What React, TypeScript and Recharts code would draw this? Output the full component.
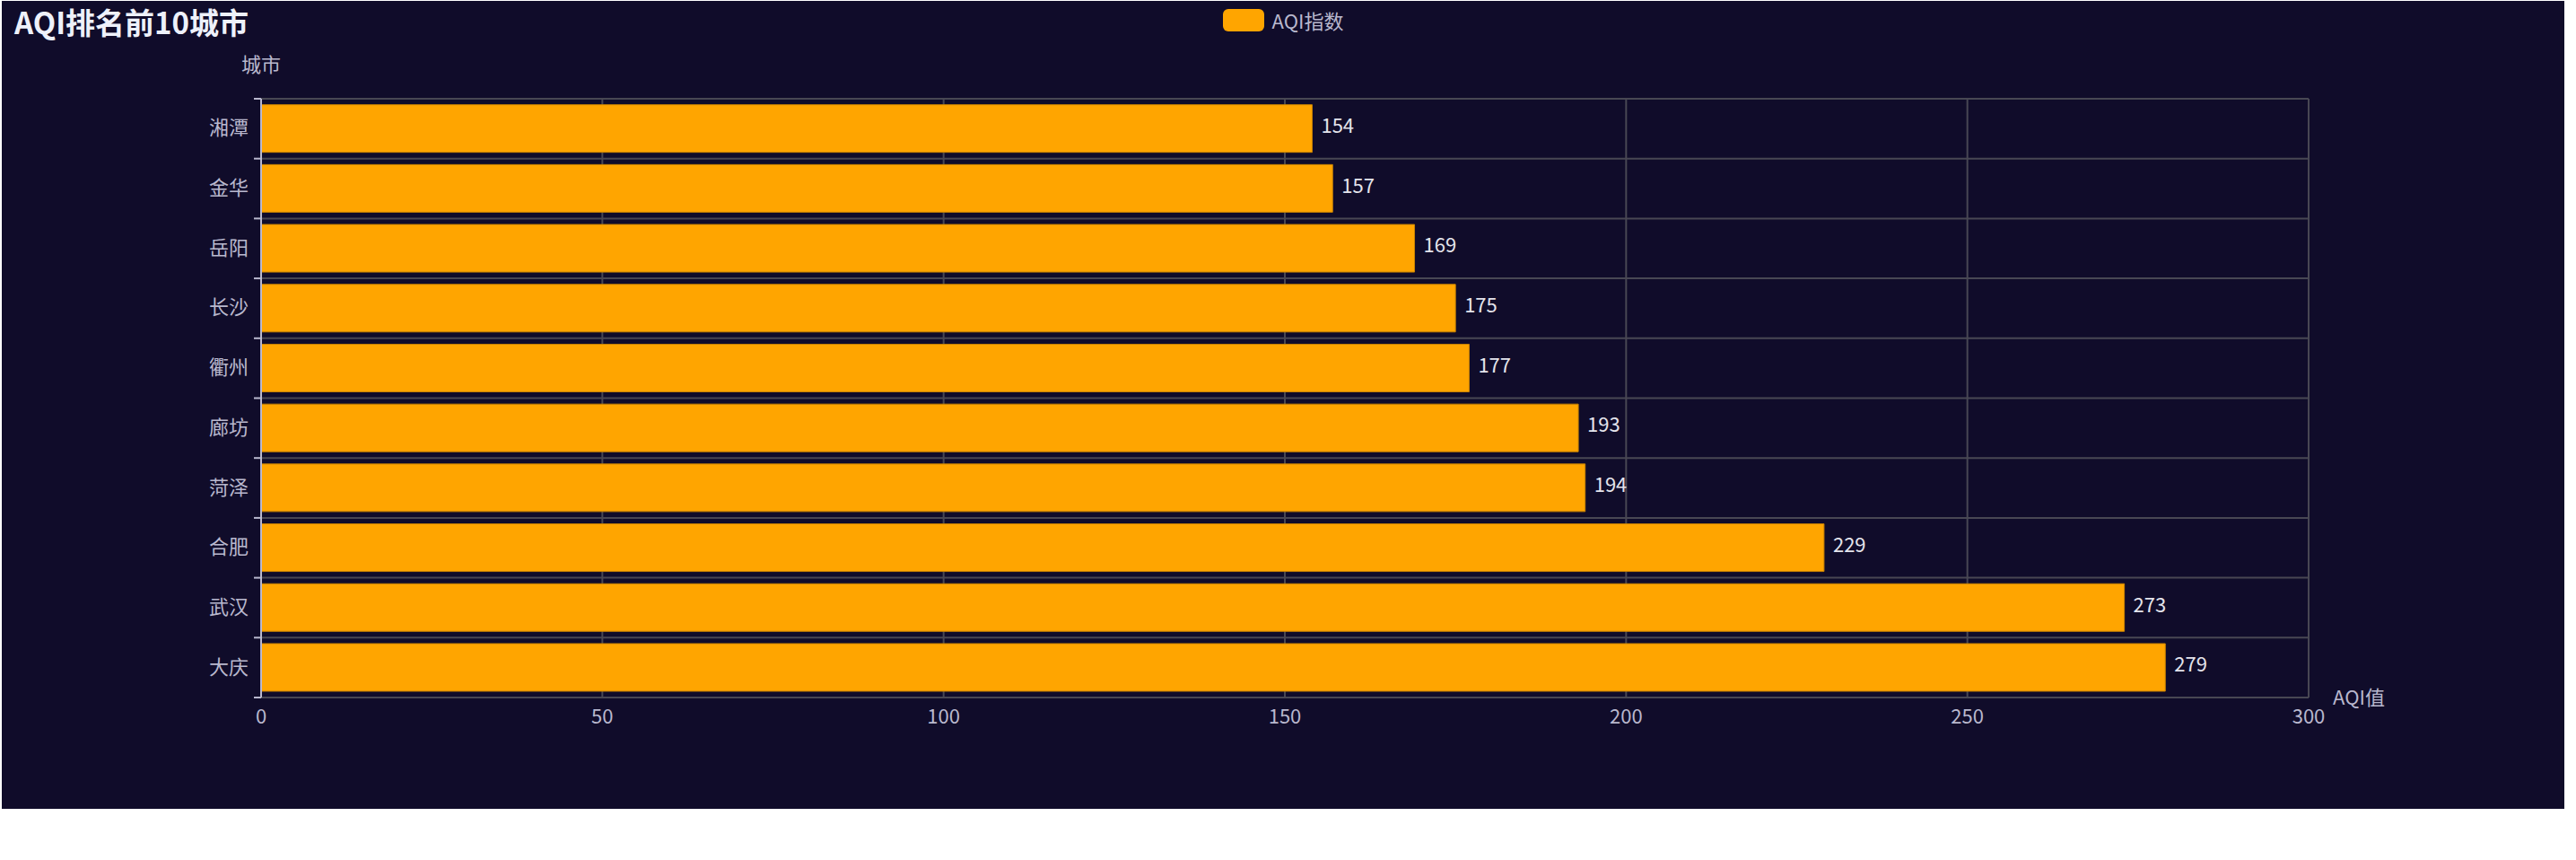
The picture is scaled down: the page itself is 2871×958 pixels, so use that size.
import React from 'react';
import {
  BarChart,
  Bar,
  XAxis,
  YAxis,
  CartesianGrid,
  Legend,
  LabelList,
} from 'recharts';

// top to bottom as drawn
const cities = ['湘潭', '金华', '岳阳', '长沙', '衢州', '廊坊', '菏泽', '合肥', '武汉', '大庆'];
const aqiValues = [154, 157, 169, 175, 177, 193, 194, 229, 273, 279];
const xTicks = [0, 50, 100, 150, 200, 250, 300];

const data = cities.map((city, i) => ({ city, aqi: aqiValues[i] }));

const W = 2856;
const H = 900;
const BG = '#100C2A';
const TEXT = '#B9B8CE';
const GRID = '#484753';
const BAR = '#FFA500';
const FONT = '"Noto Sans CJK SC", "Noto Sans", sans-serif';

const TICK_SIZE = 8;
const TICK_MARGIN = 6;

// category label at band centre, tick marks on band boundaries (echarts style)
const CityTick = (props: any) => {
  const { x, y, payload, index } = props;
  const half = payload && payload.offset ? payload.offset : 33.35;
  const axisX = x + TICK_SIZE + TICK_MARGIN;
  return (
    <g>
      <line x1={axisX - TICK_SIZE} x2={axisX} y1={y - half} y2={y - half} stroke={TEXT} strokeWidth={2} />
      {index === cities.length - 1 && (
        <line x1={axisX - TICK_SIZE} x2={axisX} y1={y + half} y2={y + half} stroke={TEXT} strokeWidth={2} />
      )}
      <text x={x} y={y - 3} textAnchor="end" dominantBaseline="central" fill={TEXT} fontSize={22} fontFamily={FONT}>
        {payload.value}
      </text>
    </g>
  );
};

const renderLegend = () => (
  <div style={{ display: 'flex', justifyContent: 'center', alignItems: 'center', fontFamily: FONT, height: 33 }}>
    <span style={{ display: 'inline-block', width: 46, height: 25, borderRadius: 6, background: BAR, marginRight: 9 }} />
    <span style={{ color: TEXT, fontSize: 22, lineHeight: '33px' }}>AQI指数</span>
  </div>
);

export default function App() {
  return (
    <div style={{ position: 'absolute', left: 2, top: 1, width: W, height: H, background: BG }}>
      <BarChart
        width={W}
        height={H}
        data={data}
        layout="vertical"
        margin={{ top: 76, right: 285, bottom: 84, left: 0 }}
        barCategoryGap="10%"
        style={{ fontFamily: FONT }}
      >
        <text x={14} y={37} fill="#EEF1FA" fontSize={33} fontWeight="bold" fontFamily={FONT}>
          AQI排名前10城市
        </text>
        <Legend
          verticalAlign="top"
          height={33}
          content={renderLegend}
          wrapperStyle={{ top: 5, left: 0, width: W }}
        />
        <CartesianGrid
          stroke={GRID}
          strokeWidth={2}
          horizontalCoordinatesGenerator={({ offset }: any) =>
            Array.from({ length: cities.length + 1 }, (_, i) => offset.top + (i * offset.height) / cities.length)
          }
        />
        <XAxis
          type="number"
          domain={[0, 300]}
          ticks={xTicks}
          axisLine={false}
          tickLine={false}
          tickSize={0}
          tickMargin={13}
          height={40}
          tick={{ fill: TEXT, fontSize: 22, fontFamily: FONT }}
          label={(p: any) => {
            const vb = p.viewBox;
            return (
              <text x={vb.x + vb.width + 27} y={vb.y - 2} dominantBaseline="central" fill={TEXT} fontSize={22} fontFamily={FONT}>
                AQI值
              </text>
            );
          }}
        />
        <YAxis
          type="category"
          dataKey="city"
          width={289}
          axisLine={{ stroke: TEXT, strokeWidth: 2 }}
          tickLine={false}
          tickSize={TICK_SIZE}
          tickMargin={TICK_MARGIN}
          tick={<CityTick />}
          interval={0}
          label={(p: any) => {
            const vb = p.viewBox;
            return (
              <text x={vb.x + vb.width} y={vb.y - 40} textAnchor="middle" dominantBaseline="central" fill={TEXT} fontSize={22} fontFamily={FONT}>
                城市
              </text>
            );
          }}
        />
        <Bar dataKey="aqi" fill={BAR} stroke="#c98300" strokeWidth={1} isAnimationActive={false}>
          <LabelList dataKey="aqi" position="right" offset={10} dy={-3} fill="#E4E4EC" fontSize={22} fontFamily={FONT} />
        </Bar>
      </BarChart>
    </div>
  );
}
